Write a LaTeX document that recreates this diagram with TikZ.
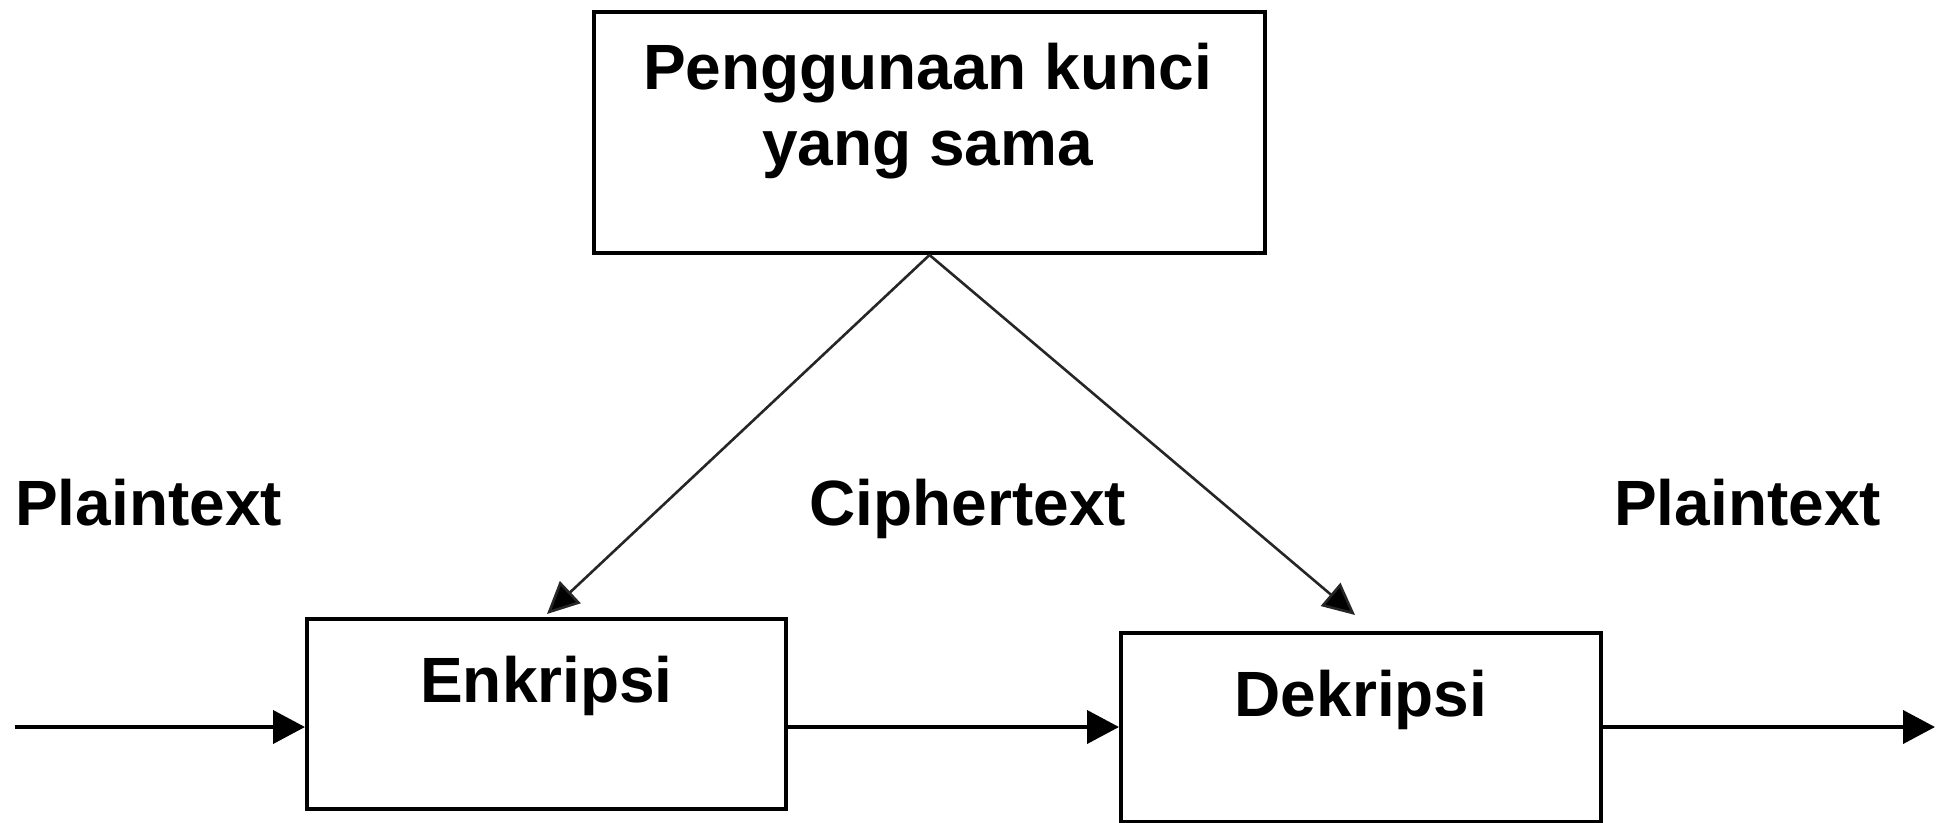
\documentclass[tikz,border=0pt]{standalone}
\usepackage{fontspec}
\setmainfont{Liberation Sans}
\usetikzlibrary{arrows.meta}

\begin{document}
\begin{tikzpicture}[x=1pt, y=-1pt,
  lbl/.style={font=\fontsize{64pt}{76pt}\selectfont\bfseries, inner sep=0pt},
  stepbox/.style={draw, line width=4pt, inner sep=0pt, anchor=north west,
    font=\fontsize{64pt}{76pt}\selectfont\bfseries},
  flow/.style={line width=4pt, -{Triangle[length=32pt, width=33pt]}},
  keyline/.style={line width=2.6pt, draw=black!85, -{Triangle[length=32pt, width=30pt, fill=black]}}
]
\useasboundingbox (0,0) rectangle (1942,822);

% shared key box
\node[stepbox, minimum width=671pt, minimum height=241pt] (key) at (592,10) {};
\node[lbl, anchor=base] (keyl1) at (927.5,89) {Penggunaan kunci};
\node[lbl, anchor=base] (keyl2) at (927.5,165) {yang sama};

% encryption and decryption boxes
\node[stepbox, minimum width=479pt, text height=83pt, text depth=107pt] (enc) at (305,617) {Enkripsi};
\node[stepbox, minimum width=480pt, text height=83pt, text depth=106pt] (dec) at (1119,631) {Dekripsi};

% labels along the flow
\node[lbl, anchor=base west] (ptin) at (15,525) {Plaintext};
\node[lbl, anchor=base] (ct) at (968,525) {Ciphertext};
\node[lbl, anchor=base west] (ptout) at (1614,525) {Plaintext};

% flow line ends
\coordinate (in) at (15,727);
\coordinate (out) at (1935,727);
\coordinate (etip) at (547,614);
\coordinate (dtip) at (1355,615);

% horizontal flow
\draw[flow] (in) -- (in -| enc.west);
\draw[flow] (enc.east |- in) -- (dec.west |- in);
\draw[flow] (dec.east |- in) -- (out);

% key distribution
\draw[keyline] (key.south) -- (etip);
\draw[keyline] (key.south) -- (dtip);
\end{tikzpicture}
\end{document}
